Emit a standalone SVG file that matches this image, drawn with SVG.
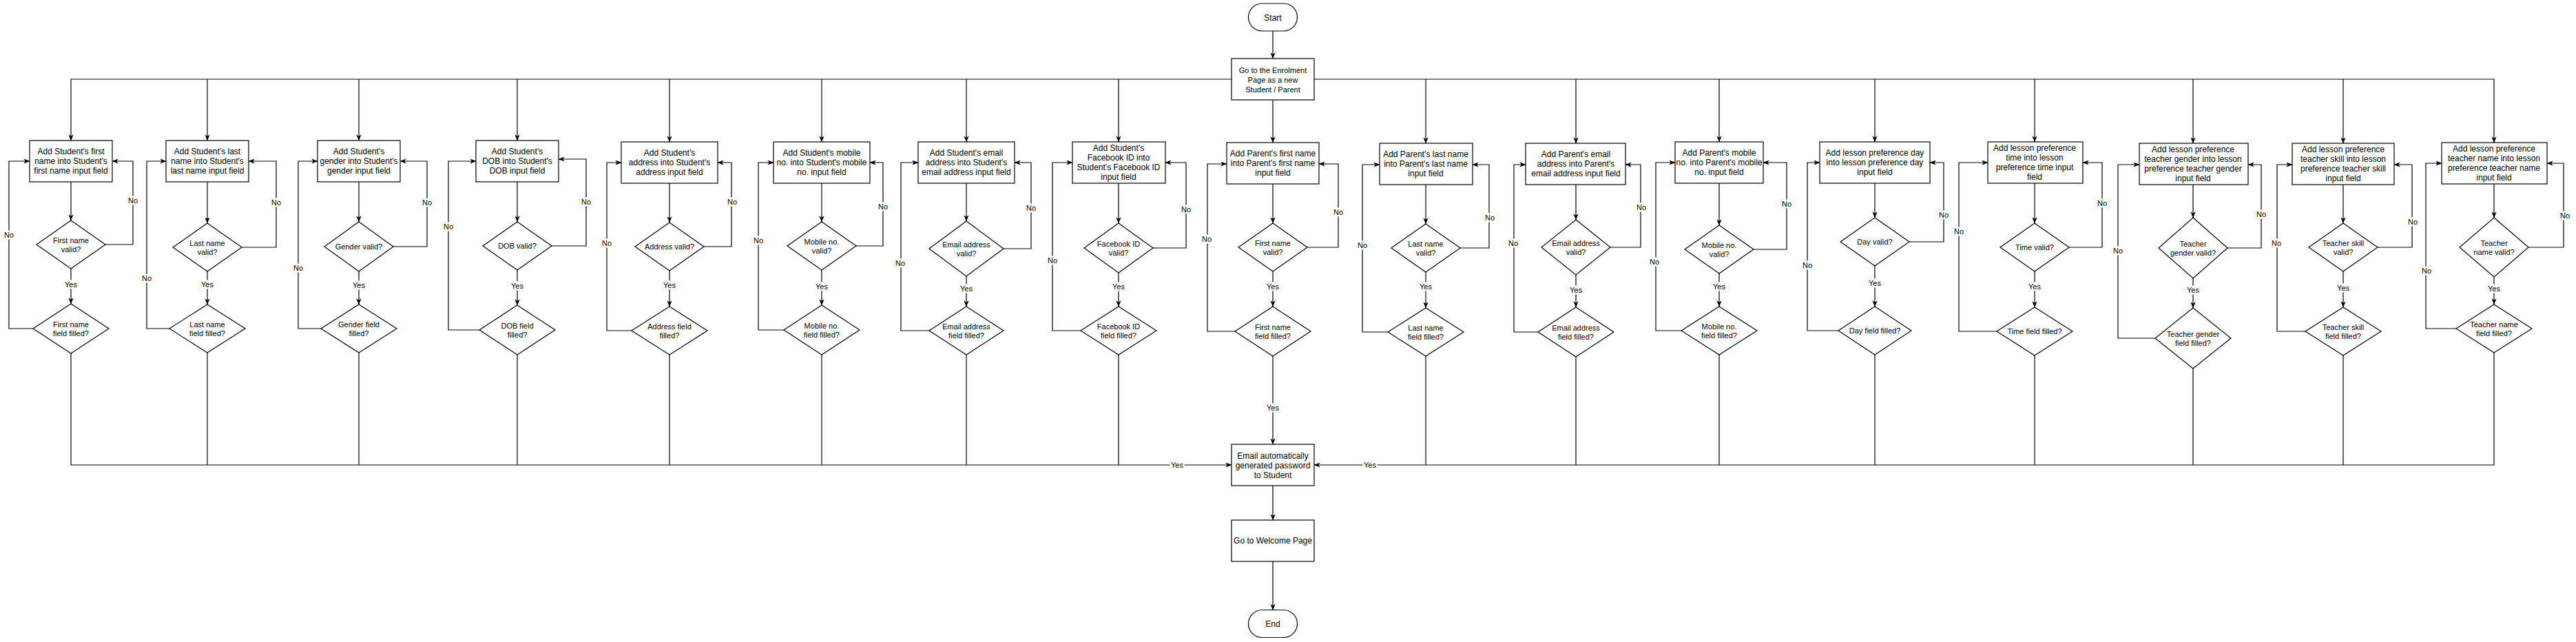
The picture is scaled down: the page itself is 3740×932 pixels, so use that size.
<svg xmlns="http://www.w3.org/2000/svg" width="3740" height="932" viewBox="0 0 3740 932">
<defs>
<style>
.bx{fill:#fff;stroke:#000;stroke-width:1.2}
.dm{fill:#fff;stroke:#000;stroke-width:1.2}
.c{fill:none;stroke:#000;stroke-width:1.2}
.ar{marker-end:url(#a)}
.t{font-family:"Liberation Sans",Arial,Helvetica,sans-serif;font-size:12px;fill:#000;text-anchor:middle}
.s{font-size:11px}
.lb{fill:#fff}
</style>
<marker id="a" markerUnits="userSpaceOnUse" markerWidth="9" markerHeight="9" viewBox="0 0 10 10" refX="9.5" refY="5" orient="auto"><path d="M0,1 L10,5 L0,9 L2.5,5 Z" fill="#000"/></marker>
</defs>
<rect width="3740" height="932" fill="#fff"/>

<g id="connectors">
<path class="c ar" d="M1848,45V85"/>
<path class="c ar" d="M1848,145.5V207"/>
<path class="c ar" d="M1788,115H103V204"/>
<path class="c ar" d="M1908,115H3621V207"/>
<path class="c ar" d="M301,115V204"/>
<path class="c ar" d="M521,115V204"/>
<path class="c ar" d="M751,115V204"/>
<path class="c ar" d="M972,115V206"/>
<path class="c ar" d="M1193,115V206"/>
<path class="c ar" d="M1403,115V206"/>
<path class="c ar" d="M1624,115V206"/>
<path class="c ar" d="M2070,115V208"/>
<path class="c ar" d="M2288,115V208"/>
<path class="c ar" d="M2496,115V206"/>
<path class="c ar" d="M2722,115V206"/>
<path class="c ar" d="M2954,115V206"/>
<path class="c ar" d="M3184,115V208"/>
<path class="c ar" d="M3402,115V208"/>

<path class="c ar" d="M103,264V320"/>
<path class="c ar" d="M301,264V324"/>
<path class="c ar" d="M521,264V322"/>
<path class="c ar" d="M751,264V322"/>
<path class="c ar" d="M972,266V323"/>
<path class="c ar" d="M1193,266V322"/>
<path class="c ar" d="M1403,266V321"/>
<path class="c ar" d="M1624,266V324"/>
<path class="c ar" d="M1848,267V324"/>
<path class="c ar" d="M2070,268V325"/>
<path class="c ar" d="M2288,268V319"/>
<path class="c ar" d="M2496,266V327"/>
<path class="c ar" d="M2722,266V316"/>
<path class="c ar" d="M2954,266V324"/>
<path class="c ar" d="M3184,268V316"/>
<path class="c ar" d="M3402,268V324"/>
<path class="c ar" d="M3621,267V316"/>

<path class="c ar" d="M103,390V441"/>
<path class="c ar" d="M301,394V442"/>
<path class="c ar" d="M521,394V442"/>
<path class="c ar" d="M751,392V443"/>
<path class="c ar" d="M972,393V445"/>
<path class="c ar" d="M1193,392V443"/>
<path class="c ar" d="M1403,401V445"/>
<path class="c ar" d="M1624,396V445"/>
<path class="c ar" d="M1848,394V445"/>
<path class="c ar" d="M2070,395V447"/>
<path class="c ar" d="M2288,399V446"/>
<path class="c ar" d="M2496,397V445"/>
<path class="c ar" d="M2722,386V445"/>
<path class="c ar" d="M2954,394V446"/>
<path class="c ar" d="M3184,404V447"/>
<path class="c ar" d="M3402,394V446"/>
<path class="c ar" d="M3621,402V442"/>

<path class="c ar" d="M103,513V675H1788"/>
<path class="c" d="M301,512V675"/>
<path class="c" d="M521,512V675"/>
<path class="c" d="M751,515V675"/>
<path class="c" d="M972,515V675"/>
<path class="c" d="M1193,515V675"/>
<path class="c" d="M1403,515V675"/>
<path class="c" d="M1624,515V675"/>
<path class="c ar" d="M1848,517V645"/>
<path class="c" d="M2070,517V675"/>
<path class="c" d="M2288,518V675"/>
<path class="c" d="M2496,515V675"/>
<path class="c" d="M2722,515V675"/>
<path class="c" d="M2954,516V675"/>
<path class="c" d="M3184,535V675"/>
<path class="c" d="M3402,516V675"/>
<path class="c ar" d="M3621,512V675H1908"/>
<path class="c ar" d="M1848,705V755"/>
<path class="c ar" d="M1848,815V885.5"/>

<path class="c ar" d="M48,477H13V234H43"/>
<path class="c ar" d="M246,477H213V234H241"/>
<path class="c ar" d="M466,477H433V234H461"/>
<path class="c ar" d="M696,479H651V234H691"/>
<path class="c ar" d="M917,480H881V236H902"/>
<path class="c ar" d="M1138,479H1101V236H1123"/>
<path class="c ar" d="M1349,480H1308V236H1333"/>
<path class="c ar" d="M1569,480H1528V236H1557"/>
<path class="c ar" d="M1793,481H1753V238H1781"/>
<path class="c ar" d="M2015,482H1978V239H2003"/>
<path class="c ar" d="M2233,482H2198V239H2215"/>
<path class="c ar" d="M2441,480H2404V236H2432"/>
<path class="c ar" d="M2669,480H2624V236H2642"/>
<path class="c ar" d="M2899,481H2844V236H2886"/>
<path class="c ar" d="M3129,491H3075V239H3106"/>
<path class="c ar" d="M3347,481H3306V239H3328"/>
<path class="c ar" d="M3566,477H3522V237H3545"/>

<path class="c ar" d="M153,355H193V234H163"/>
<path class="c ar" d="M351,359H401V234H361"/>
<path class="c ar" d="M571,358H620V234H581"/>
<path class="c ar" d="M801,357H851V231H811"/>
<path class="c ar" d="M1022,358H1062V236H1042"/>
<path class="c ar" d="M1243,357H1282V236H1263"/>
<path class="c ar" d="M1457,361H1497V236H1473"/>
<path class="c ar" d="M1674,360H1722V236H1692"/>
<path class="c ar" d="M1898,359H1943V238H1915"/>
<path class="c ar" d="M2120,360H2162V239H2138"/>
<path class="c ar" d="M2338,359H2382V239H2360"/>
<path class="c ar" d="M2546,362H2594V236H2560"/>
<path class="c ar" d="M2772,351H2822V236H2802"/>
<path class="c ar" d="M3004,359H3052V236H3024"/>
<path class="c ar" d="M3234,360H3283V239H3264"/>
<path class="c ar" d="M3452,359H3502V239H3476"/>
<path class="c ar" d="M3671,359H3722V237H3698"/>

<g id="labels">
<g class="lb">
<rect x="92.5" y="406.5" width="21" height="13"/><rect x="290.5" y="406.5" width="21" height="13"/><rect x="510.5" y="407.5" width="21" height="13"/><rect x="740.5" y="408.5" width="21" height="13"/><rect x="961.5" y="407.5" width="21" height="13"/><rect x="1182.5" y="409.5" width="21" height="13"/><rect x="1392.5" y="412.5" width="21" height="13"/><rect x="1613.5" y="409.5" width="21" height="13"/><rect x="1837.5" y="409.5" width="21" height="13"/><rect x="2059.5" y="409.5" width="21" height="13"/><rect x="2277.5" y="414.5" width="21" height="13"/><rect x="2485.5" y="409.5" width="21" height="13"/><rect x="2711.5" y="404.5" width="21" height="13"/><rect x="2943.5" y="409.5" width="21" height="13"/><rect x="3173.5" y="414.5" width="21" height="13"/><rect x="3391.5" y="411.5" width="21" height="13"/><rect x="3610.5" y="412.5" width="21" height="13"/>
<rect x="1837.5" y="585.5" width="21" height="13"/><rect x="1698.5" y="668.5" width="21" height="13"/><rect x="1978.5" y="668.5" width="21" height="13"/>
<rect x="5" y="334.5" width="16" height="13"/><rect x="205" y="397.5" width="16" height="13"/><rect x="425" y="382.5" width="16" height="13"/><rect x="643" y="322.5" width="16" height="13"/><rect x="873" y="346.5" width="16" height="13"/><rect x="1093" y="342.5" width="16" height="13"/><rect x="1299" y="375.5" width="16" height="13"/><rect x="1520" y="371.5" width="16" height="13"/><rect x="1744" y="340.5" width="16" height="13"/><rect x="1970" y="349.5" width="16" height="13"/><rect x="2189" y="346.5" width="16" height="13"/><rect x="2394" y="373.5" width="16" height="13"/><rect x="2616" y="378.5" width="16" height="13"/><rect x="2836" y="329.5" width="16" height="13"/><rect x="3067" y="357.5" width="16" height="13"/><rect x="3297" y="346.5" width="16" height="13"/><rect x="3515" y="386.5" width="16" height="13"/>
<rect x="185" y="284.5" width="16" height="13"/><rect x="393" y="287.5" width="16" height="13"/><rect x="612" y="287.5" width="16" height="13"/><rect x="843" y="286.5" width="16" height="13"/><rect x="1055" y="286.5" width="16" height="13"/><rect x="1274" y="293.5" width="16" height="13"/><rect x="1489" y="295.5" width="16" height="13"/><rect x="1714" y="297.5" width="16" height="13"/><rect x="1935" y="301.5" width="16" height="13"/><rect x="2155" y="309.5" width="16" height="13"/><rect x="2375" y="294.5" width="16" height="13"/><rect x="2586" y="289.5" width="16" height="13"/><rect x="2814" y="305.5" width="16" height="13"/><rect x="3044" y="288.5" width="16" height="13"/><rect x="3275" y="304.5" width="16" height="13"/><rect x="3495" y="315.5" width="16" height="13"/><rect x="3716" y="306.5" width="16" height="13"/>
</g>
<g class="t s">
<text x="103" y="417">Yes</text><text x="301" y="417">Yes</text><text x="521" y="418">Yes</text><text x="751" y="419">Yes</text><text x="972" y="418">Yes</text><text x="1193" y="420">Yes</text><text x="1403" y="423">Yes</text><text x="1624" y="420">Yes</text><text x="1848" y="420">Yes</text><text x="2070" y="420">Yes</text><text x="2288" y="425">Yes</text><text x="2496" y="420">Yes</text><text x="2722" y="415">Yes</text><text x="2954" y="420">Yes</text><text x="3184" y="425">Yes</text><text x="3402" y="422">Yes</text><text x="3621" y="423">Yes</text>
<text x="1848" y="596">Yes</text><text x="1709" y="679">Yes</text><text x="1989" y="679">Yes</text>
<text x="13" y="345">No</text><text x="213" y="408">No</text><text x="433" y="393">No</text><text x="651" y="333">No</text><text x="881" y="357">No</text><text x="1101" y="353">No</text><text x="1307" y="386">No</text><text x="1528" y="382">No</text><text x="1752" y="351">No</text><text x="1978" y="360">No</text><text x="2197" y="357">No</text><text x="2402" y="384">No</text><text x="2624" y="389">No</text><text x="2844" y="340">No</text><text x="3075" y="368">No</text><text x="3305" y="357">No</text><text x="3523" y="397">No</text>
<text x="193" y="295">No</text><text x="401" y="298">No</text><text x="620" y="298">No</text><text x="851" y="297">No</text><text x="1063" y="297">No</text><text x="1282" y="304">No</text><text x="1497" y="306">No</text><text x="1722" y="308">No</text><text x="1943" y="312">No</text><text x="2163" y="320">No</text><text x="2383" y="305">No</text><text x="2594" y="300">No</text><text x="2822" y="316">No</text><text x="3052" y="299">No</text><text x="3283" y="315">No</text><text x="3503" y="326">No</text><text x="3724" y="317">No</text>
</g>
</g>
</g>

<g id="start"><rect class="bx" x="1812.5" y="5" width="71" height="40" rx="20" ry="20"/><text class="t" x="1848" y="29.5">Start</text></g>
<g id="enrolment"><rect class="bx" x="1788" y="85" width="120" height="60"/><text class="t" x="1848" style="font-size:11px"><tspan x="1848" y="105.5">Go to the Enrolment</tspan><tspan x="1848" y="119.5">Page as a new</tspan><tspan x="1848" y="133.5">Student / Parent</tspan></text></g>
<g id="email"><rect class="bx" x="1788" y="645" width="120" height="60"/><text class="t"><tspan x="1848" y="665.5">Email automatically</tspan><tspan x="1848" y="679.5">generated password</tspan><tspan x="1848" y="693.5">to Student</tspan></text></g>
<g id="welcome"><rect class="bx" x="1788" y="755" width="120" height="60"/><text class="t" x="1848" y="789">Go to Welcome Page</text></g>
<g id="end"><rect class="bx" x="1812.5" y="885.5" width="71" height="40" rx="20" ry="20"/><text class="t" x="1848" y="910">End</text></g>

<g id="col1">
<rect class="bx" x="43" y="204" width="120" height="60"/>
<text class="t"><tspan x="103" y="224">Add Student's first</tspan><tspan x="103" y="238">name into Student's</tspan><tspan x="103" y="252">first name input field</tspan></text>
<polygon class="dm" points="103,320 153,355 103,390 53,355"/>
<text class="t s"><tspan x="103" y="352.5">First name</tspan><tspan x="103" y="365.5">valid?</tspan></text>
<polygon class="dm" points="103,441 158,477 103,513 48,477"/>
<text class="t s"><tspan x="103" y="474.5">First name</tspan><tspan x="103" y="487.5">field filled?</tspan></text>
</g>
<g id="col2">
<rect class="bx" x="241" y="204" width="120" height="60"/>
<text class="t"><tspan x="301" y="224">Add Student's last</tspan><tspan x="301" y="238">name into Student's</tspan><tspan x="301" y="252">last name input field</tspan></text>
<polygon class="dm" points="301,324 351,359 301,394 251,359"/>
<text class="t s"><tspan x="301" y="356.5">Last name</tspan><tspan x="301" y="369.5">valid?</tspan></text>
<polygon class="dm" points="301,442 356,477 301,512 246,477"/>
<text class="t s"><tspan x="301" y="474.5">Last name</tspan><tspan x="301" y="487.5">field filled?</tspan></text>
</g>
<g id="col3">
<rect class="bx" x="461" y="204" width="120" height="60"/>
<text class="t"><tspan x="521" y="224">Add Student's</tspan><tspan x="521" y="238">gender into Student's</tspan><tspan x="521" y="252">gender input field</tspan></text>
<polygon class="dm" points="521,322 571,358 521,394 471,358"/>
<text class="t s" x="521" y="362">Gender valid?</text>
<polygon class="dm" points="521,442 576,477 521,512 466,477"/>
<text class="t s"><tspan x="521" y="474.5">Gender field</tspan><tspan x="521" y="487.5">filled?</tspan></text>
</g>
<g id="col4">
<rect class="bx" x="691" y="204" width="120" height="60"/>
<text class="t"><tspan x="751" y="224">Add Student's</tspan><tspan x="751" y="238">DOB into Student's</tspan><tspan x="751" y="252">DOB input field</tspan></text>
<polygon class="dm" points="751,322 801,357 751,392 701,357"/>
<text class="t s" x="751" y="361">DOB valid?</text>
<polygon class="dm" points="751,443 806,479 751,515 696,479"/>
<text class="t s"><tspan x="751" y="476.5">DOB field</tspan><tspan x="751" y="489.5">filled?</tspan></text>
</g>
<g id="col5">
<rect class="bx" x="902" y="206" width="140" height="60"/>
<text class="t"><tspan x="972" y="226">Add Student's</tspan><tspan x="972" y="240">address into Student's</tspan><tspan x="972" y="254">address input field</tspan></text>
<polygon class="dm" points="972,323 1022,358 972,393 922,358"/>
<text class="t s" x="972" y="362">Address valid?</text>
<polygon class="dm" points="972,445 1027,480 972,515 917,480"/>
<text class="t s"><tspan x="972" y="477.5">Address field</tspan><tspan x="972" y="490.5">filled?</tspan></text>
</g>
<g id="col6">
<rect class="bx" x="1123" y="206" width="140" height="60"/>
<text class="t"><tspan x="1193" y="226">Add Student's mobile</tspan><tspan x="1193" y="240">no. into Student's mobile</tspan><tspan x="1193" y="254">no. input field</tspan></text>
<polygon class="dm" points="1193,322 1243,357 1193,392 1143,357"/>
<text class="t s"><tspan x="1193" y="354.5">Mobile no.</tspan><tspan x="1193" y="367.5">valid?</tspan></text>
<polygon class="dm" points="1193,443 1248,479 1193,515 1138,479"/>
<text class="t s"><tspan x="1193" y="476.5">Mobile no.</tspan><tspan x="1193" y="489.5">field filled?</tspan></text>
</g>
<g id="col7">
<rect class="bx" x="1333" y="206" width="140" height="60"/>
<text class="t"><tspan x="1403" y="226">Add Student's email</tspan><tspan x="1403" y="240">address into Student's</tspan><tspan x="1403" y="254">email address input field</tspan></text>
<polygon class="dm" points="1403,321 1457,361 1403,401 1349,361"/>
<text class="t s"><tspan x="1403" y="358.5">Email address</tspan><tspan x="1403" y="371.5">valid?</tspan></text>
<polygon class="dm" points="1403,445 1457,480 1403,515 1349,480"/>
<text class="t s"><tspan x="1403" y="477.5">Email address</tspan><tspan x="1403" y="490.5">field filled?</tspan></text>
</g>
<g id="col8">
<rect class="bx" x="1557" y="206" width="135" height="60"/>
<text class="t"><tspan x="1624" y="219">Add Student's</tspan><tspan x="1624" y="233">Facebook ID into</tspan><tspan x="1624" y="247">Student's Facebook ID</tspan><tspan x="1624" y="261">input field</tspan></text>
<polygon class="dm" points="1624,324 1674,360 1624,396 1574,360"/>
<text class="t s"><tspan x="1624" y="357.5">Facebook ID</tspan><tspan x="1624" y="370.5">valid?</tspan></text>
<polygon class="dm" points="1624,445 1679,480 1624,515 1569,480"/>
<text class="t s"><tspan x="1624" y="477.5">Facebook ID</tspan><tspan x="1624" y="490.5">field filled?</tspan></text>
</g>
<g id="col9">
<rect class="bx" x="1781" y="207" width="134" height="60"/>
<text class="t"><tspan x="1848" y="227">Add Parent's first name</tspan><tspan x="1848" y="241">into Parent's first name</tspan><tspan x="1848" y="255">input field</tspan></text>
<polygon class="dm" points="1848,324 1898,359 1848,394 1798,359"/>
<text class="t s"><tspan x="1848" y="356.5">First name</tspan><tspan x="1848" y="369.5">valid?</tspan></text>
<polygon class="dm" points="1848,445 1903,481 1848,517 1793,481"/>
<text class="t s"><tspan x="1848" y="478.5">First name</tspan><tspan x="1848" y="491.5">field filled?</tspan></text>
</g>
<g id="col10">
<rect class="bx" x="2003" y="208" width="135" height="60"/>
<text class="t"><tspan x="2070" y="228">Add Parent's last name</tspan><tspan x="2070" y="242">into Parent's last name</tspan><tspan x="2070" y="256">input field</tspan></text>
<polygon class="dm" points="2070,325 2120,360 2070,395 2020,360"/>
<text class="t s"><tspan x="2070" y="357.5">Last name</tspan><tspan x="2070" y="370.5">valid?</tspan></text>
<polygon class="dm" points="2070,447 2125,482 2070,517 2015,482"/>
<text class="t s"><tspan x="2070" y="479.5">Last name</tspan><tspan x="2070" y="492.5">field filled?</tspan></text>
</g>
<g id="col11">
<rect class="bx" x="2215" y="208" width="145" height="60"/>
<text class="t"><tspan x="2288" y="228">Add Parent's email</tspan><tspan x="2288" y="242">address into Parent's</tspan><tspan x="2288" y="256">email address input field</tspan></text>
<polygon class="dm" points="2288,319 2338,359 2288,399 2238,359"/>
<text class="t s"><tspan x="2288" y="356.5">Email address</tspan><tspan x="2288" y="369.5">valid?</tspan></text>
<polygon class="dm" points="2288,446 2343,482 2288,518 2233,482"/>
<text class="t s"><tspan x="2288" y="479.5">Email address</tspan><tspan x="2288" y="492.5">field filled?</tspan></text>
</g>
<g id="col12">
<rect class="bx" x="2432" y="206" width="128" height="60"/>
<text class="t"><tspan x="2496" y="226">Add Parent's mobile</tspan><tspan x="2496" y="240">no. into Parent's mobile</tspan><tspan x="2496" y="254">no. input field</tspan></text>
<polygon class="dm" points="2496,327 2546,362 2496,397 2446,362"/>
<text class="t s"><tspan x="2496" y="359.5">Mobile no.</tspan><tspan x="2496" y="372.5">valid?</tspan></text>
<polygon class="dm" points="2496,445 2551,480 2496,515 2441,480"/>
<text class="t s"><tspan x="2496" y="477.5">Mobile no.</tspan><tspan x="2496" y="490.5">field filled?</tspan></text>
</g>
<g id="col13">
<rect class="bx" x="2642" y="206" width="160" height="60"/>
<text class="t"><tspan x="2722" y="226">Add lesson preference day</tspan><tspan x="2722" y="240">into lesson preference day</tspan><tspan x="2722" y="254">input field</tspan></text>
<polygon class="dm" points="2722,316 2772,351 2722,386 2672,351"/>
<text class="t s" x="2722" y="355">Day valid?</text>
<polygon class="dm" points="2722,445 2775,480 2722,515 2669,480"/>
<text class="t s" x="2722" y="484">Day field filled?</text>
</g>
<g id="col14">
<rect class="bx" x="2886" y="206" width="138" height="60"/>
<text class="t"><tspan x="2954" y="219">Add lesson preference</tspan><tspan x="2954" y="233">time into lesson</tspan><tspan x="2954" y="247">preference time input</tspan><tspan x="2954" y="261">field</tspan></text>
<polygon class="dm" points="2954,324 3004,359 2954,394 2904,359"/>
<text class="t s" x="2954" y="363">Time valid?</text>
<polygon class="dm" points="2954,446 3009,481 2954,516 2899,481"/>
<text class="t s" x="2954" y="485">Time field filled?</text>
</g>
<g id="col15">
<rect class="bx" x="3106" y="208" width="158" height="60"/>
<text class="t"><tspan x="3184" y="221">Add lesson preference</tspan><tspan x="3184" y="235">teacher gender into lesson</tspan><tspan x="3184" y="249">preference teacher gender</tspan><tspan x="3184" y="263">input field</tspan></text>
<polygon class="dm" points="3184,316 3234,360 3184,404 3134,360"/>
<text class="t s"><tspan x="3184" y="357.5">Teacher</tspan><tspan x="3184" y="370.5">gender valid?</tspan></text>
<polygon class="dm" points="3184,447 3239,491 3184,535 3129,491"/>
<text class="t s"><tspan x="3184" y="488.5">Teacher gender</tspan><tspan x="3184" y="501.5">field filled?</tspan></text>
</g>
<g id="col16">
<rect class="bx" x="3328" y="208" width="148" height="60"/>
<text class="t"><tspan x="3402" y="221">Add lesson preference</tspan><tspan x="3402" y="235">teacher skill into lesson</tspan><tspan x="3402" y="249">preference teacher skill</tspan><tspan x="3402" y="263">input field</tspan></text>
<polygon class="dm" points="3402,324 3452,359 3402,394 3352,359"/>
<text class="t s"><tspan x="3402" y="356.5">Teacher skill</tspan><tspan x="3402" y="369.5">valid?</tspan></text>
<polygon class="dm" points="3402,446 3457,481 3402,516 3347,481"/>
<text class="t s"><tspan x="3402" y="478.5">Teacher skill</tspan><tspan x="3402" y="491.5">field filled?</tspan></text>
</g>
<g id="col17">
<rect class="bx" x="3545" y="207" width="153" height="60"/>
<text class="t"><tspan x="3621" y="220">Add lesson preference</tspan><tspan x="3621" y="234">teacher name into lesson</tspan><tspan x="3621" y="248">preference teacher name</tspan><tspan x="3621" y="262">input field</tspan></text>
<polygon class="dm" points="3621,316 3671,359 3621,402 3571,359"/>
<text class="t s"><tspan x="3621" y="356.5">Teacher</tspan><tspan x="3621" y="369.5">name valid?</tspan></text>
<polygon class="dm" points="3621,442 3676,477 3621,512 3566,477"/>
<text class="t s"><tspan x="3621" y="474.5">Teacher name</tspan><tspan x="3621" y="487.5">field filled?</tspan></text>
</g>
</svg>
